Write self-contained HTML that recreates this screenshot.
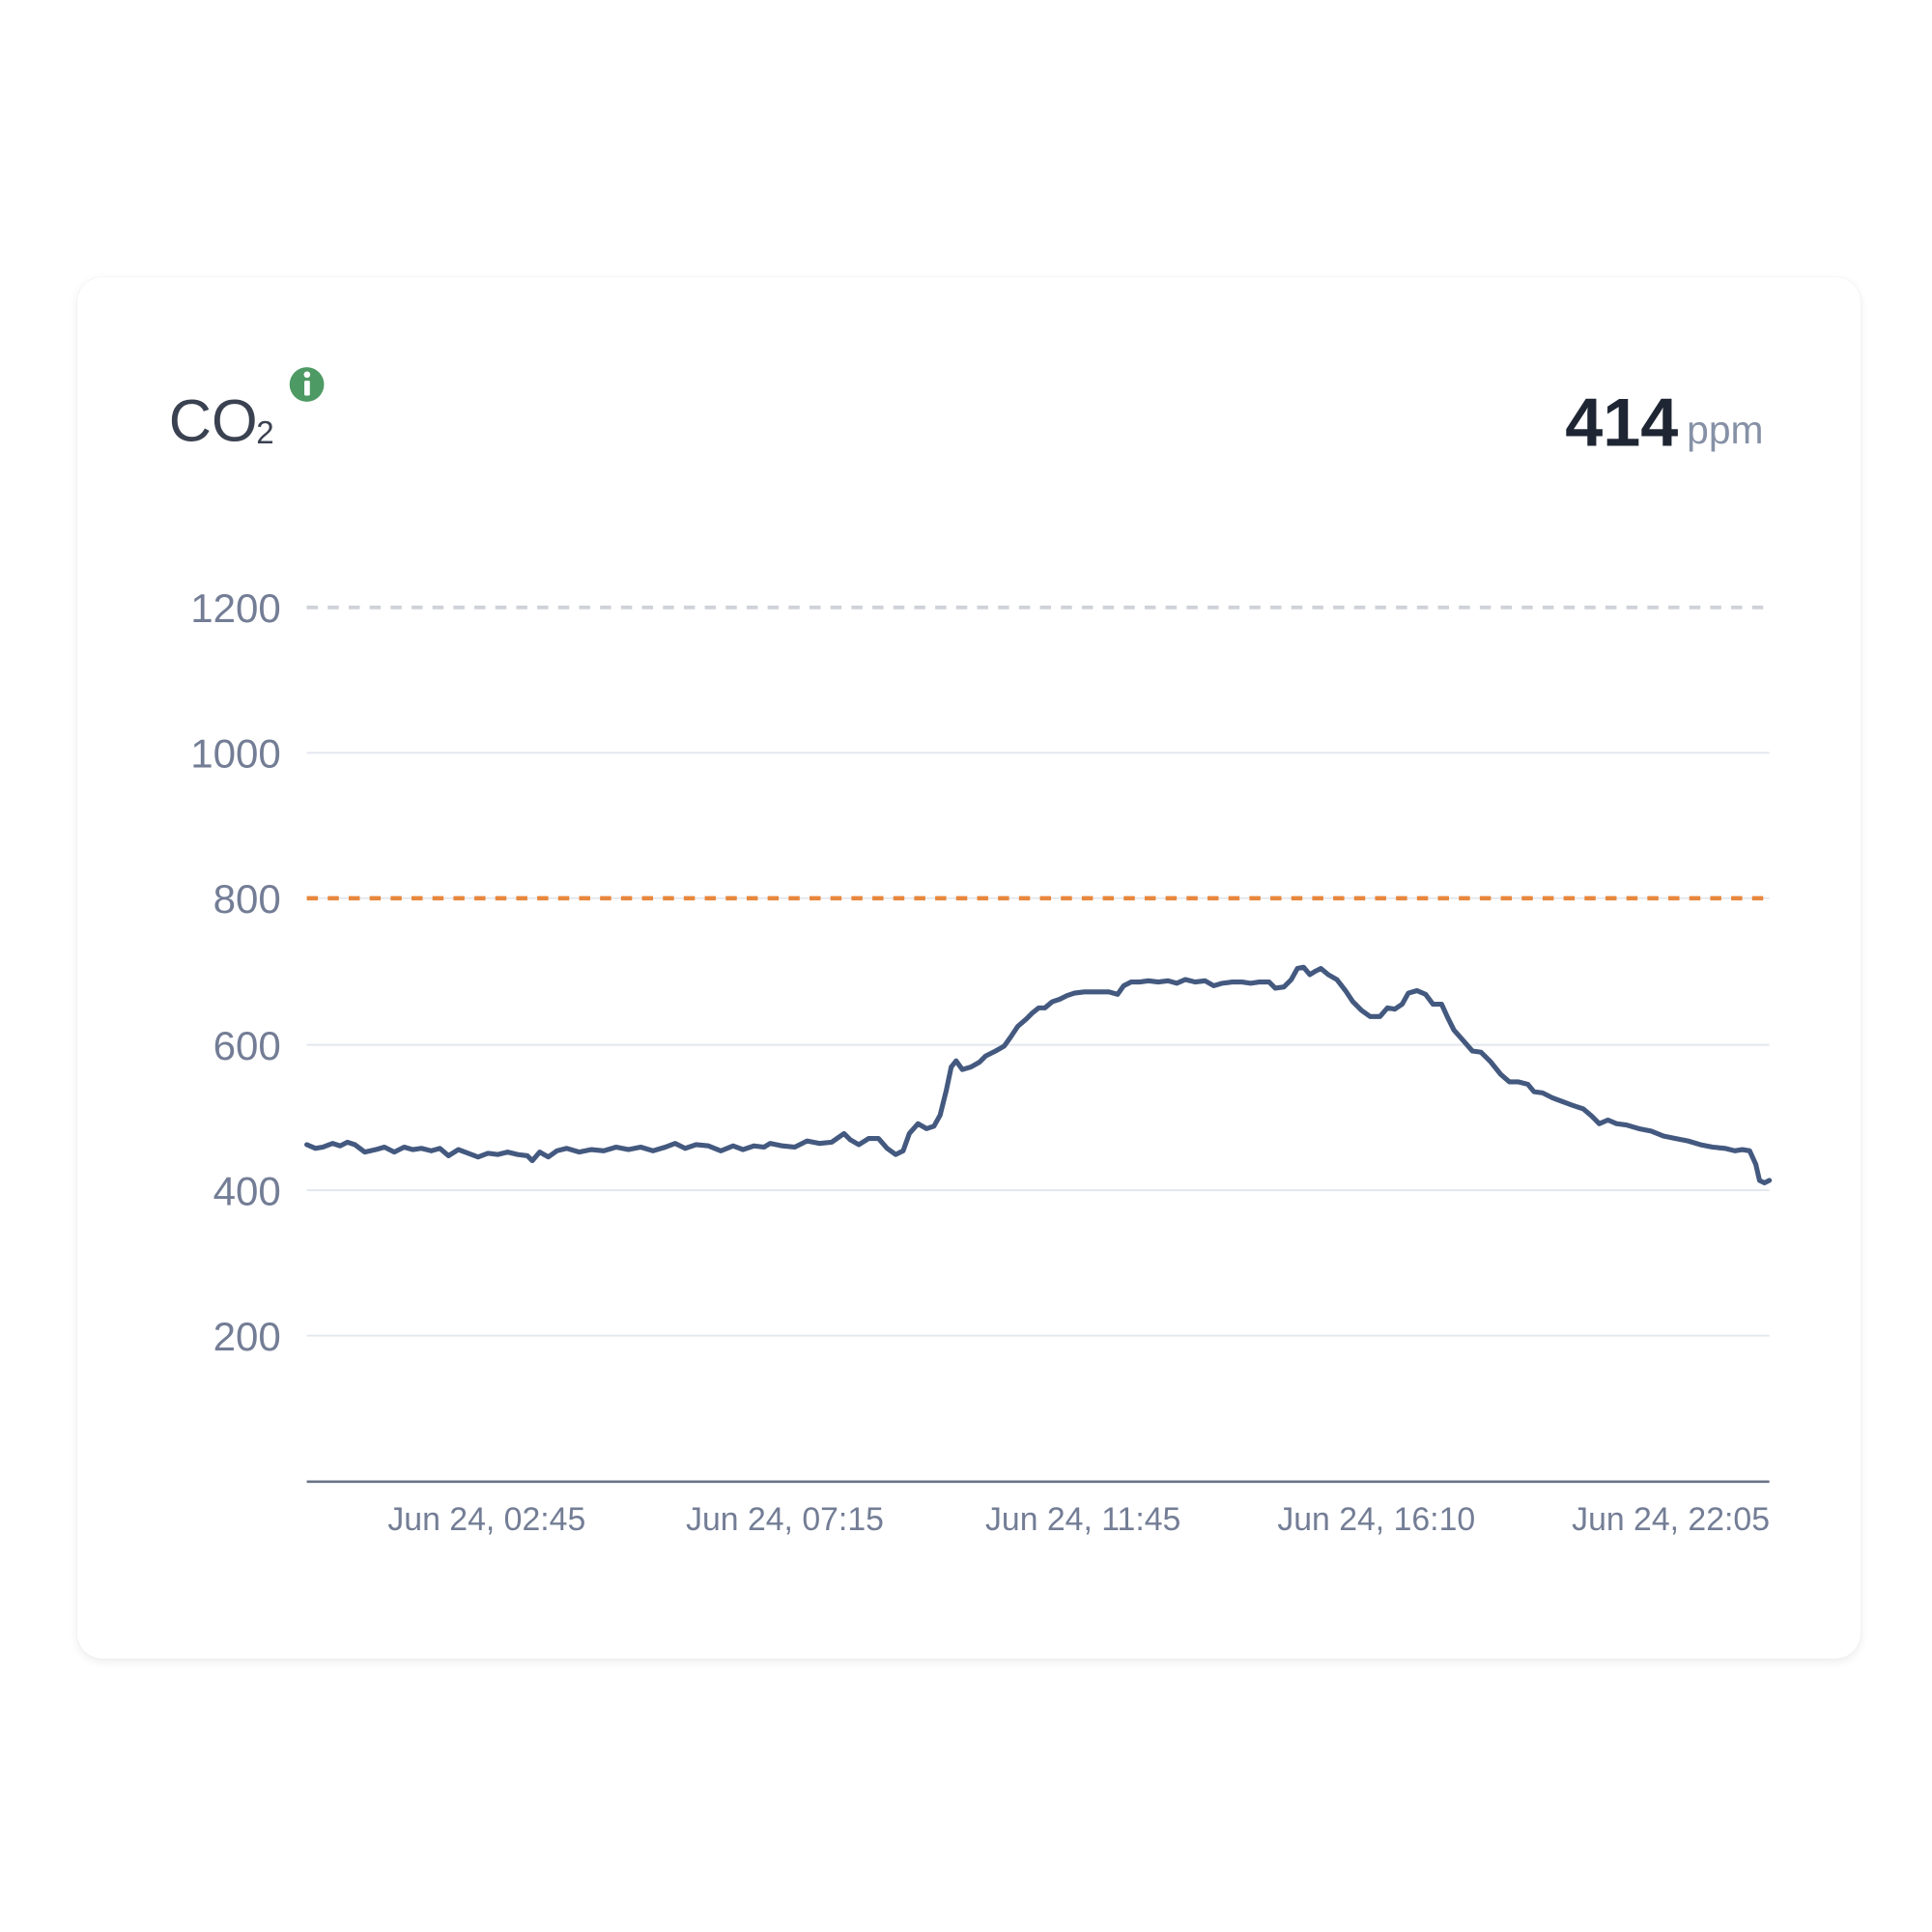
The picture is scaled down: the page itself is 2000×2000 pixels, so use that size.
<!DOCTYPE html>
<html><head><meta charset="utf-8"><style>
html,body{margin:0;padding:0;background:#fff;width:2000px;height:2000px;overflow:hidden}
.card{position:absolute;left:80px;top:287px;width:1846px;height:1430px;border-radius:26px;background:#fff;box-shadow:0 3px 10px rgba(0,0,0,0.08),0 0 2px rgba(0,0,0,0.05)}
svg{position:absolute;left:0;top:0}
text{font-family:"Liberation Sans",sans-serif}
</style></head><body>
<div class="card"></div>
<svg width="2000" height="2000" viewBox="0 0 1568 1568">
<text x="137" y="358" font-size="48" fill="#3a4150">CO<tspan font-size="26" dx="-1" dy="2">2</tspan></text>
<circle cx="249" cy="312" r="14" fill="#4e9a64"/>
<rect x="247" y="309" width="4.5" height="12" rx="1" fill="#fff"/>
<circle cx="249.2" cy="304" r="2.6" fill="#fff"/>
<text x="1362" y="362" font-size="55" font-weight="bold" fill="#1f2633" text-anchor="end">414</text>
<text x="1369" y="360" font-size="32" fill="#8691a6">ppm</text>
<g font-size="33" fill="#737d95" text-anchor="end">
<text x="228" y="505">1200</text>
<text x="228" y="623">1000</text>
<text x="228" y="741">800</text>
<text x="228" y="860">600</text>
<text x="228" y="978">400</text>
<text x="228" y="1096">200</text>
</g>
<g stroke="#e3e7ef" stroke-width="1.5">
<line x1="249" x2="1436" y1="611" y2="611"/>
<line x1="249" x2="1436" y1="729" y2="729"/>
<line x1="249" x2="1436" y1="848" y2="848"/>
<line x1="249" x2="1436" y1="966" y2="966"/>
<line x1="249" x2="1436" y1="1084" y2="1084"/>
</g>
<line x1="249" x2="1436" y1="493" y2="493" stroke="#cfd2d8" stroke-width="3" stroke-dasharray="9 8"/>
<line x1="249" x2="1436" y1="729" y2="729" stroke="#e8873d" stroke-width="3.5" stroke-dasharray="9 8"/>
<line x1="249" x2="1436" y1="1202.5" y2="1202.5" stroke="#6b7385" stroke-width="2"/>
<g font-size="26.5" fill="#737d95" text-anchor="middle">
<text x="395" y="1242">Jun 24, 02:45</text>
<text x="637" y="1242">Jun 24, 07:15</text>
<text x="879" y="1242">Jun 24, 11:45</text>
<text x="1117" y="1242">Jun 24, 16:10</text>
<text x="1356" y="1242">Jun 24, 22:05</text>
</g>
<polyline fill="none" stroke="#44597f" stroke-width="4" stroke-linejoin="round" stroke-linecap="round" points="249,929 256,932 262,931 270,928 276,930 282,927 288,929 296,935 305,933 312,931 320,935 328,931 335,933 342,932 350,934 357,932 364,938 372,933 380,936 388,939 396,936 404,937 412,935 420,937 428,938 432,942 438,935 445,939 452,934 460,932 470,935 480,933 490,934 500,931 510,933 520,931 530,934 540,931 548,928 556,932 565,929 575,930 585,934 595,930 603,933 612,930 620,931 625,928 635,930 645,931 655,926 665,928 675,927 685,920 690,925 697,929 705,924 713,924 720,932 727,937 733,934 738,920 745,912 752,916 758,914 763,905 768,885 772,866 776,861 781,868 788,866 795,862 800,857 808,853 815,849 820,842 826,833 833,827 838,822 843,818 848,818 854,813 860,811 866,808 872,806 880,805 890,805 900,805 907,807 912,800 918,797 925,797 932,796 940,797 948,796 955,798 962,795 970,797 978,796 985,800 992,798 1000,797 1008,797 1015,798 1022,797 1030,797 1035,802 1042,801 1048,795 1053,786 1058,785 1063,791 1068,788 1072,786 1078,791 1085,795 1092,804 1098,813 1105,820 1112,825 1120,825 1126,818 1132,819 1138,815 1143,806 1150,804 1157,807 1163,815 1170,815 1175,826 1180,836 1188,845 1195,853 1202,854 1210,862 1218,872 1225,878 1232,878 1240,880 1245,886 1252,887 1260,891 1268,894 1276,897 1285,900 1292,906 1298,912 1305,909 1312,912 1320,913 1330,916 1340,918 1350,922 1360,924 1370,926 1380,929 1390,931 1400,932 1408,934 1414,933 1420,934 1425,945 1428,958 1432,960 1436,958"/>
</svg>
</body></html>
